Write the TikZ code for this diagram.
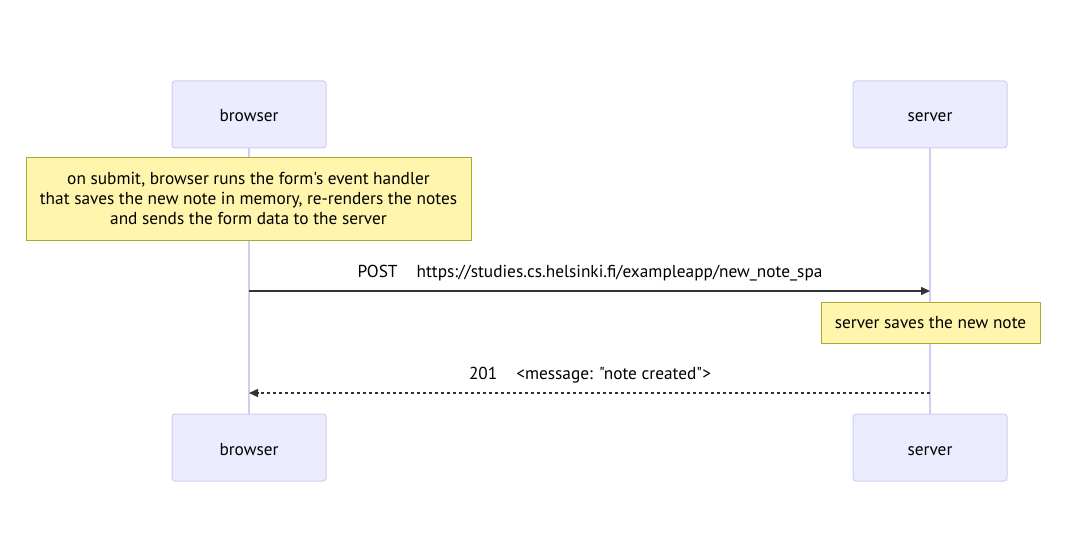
\documentclass[tikz,border=0pt]{standalone}
\usepackage{fontspec}
\setmainfont{PT Sans}[Ligatures=TeXOff]
\usetikzlibrary{arrows.meta}
\definecolor{actfill}{HTML}{ECECFF}
\definecolor{actline}{HTML}{D3CBF2}
\definecolor{notefill}{HTML}{FFF5AD}
\definecolor{noteline}{HTML}{AAAA33}
\definecolor{msg}{HTML}{333333}
\begin{document}
\begin{tikzpicture}[x=1pt,y=-1pt,
  actor/.style={draw=actline,fill=actfill,rounded corners=3pt,minimum width=154pt,minimum height=67pt,inner sep=0pt,font=\fontsize{17.3}{20}\selectfont,text height=15pt,text depth=0pt,line width=1pt},
  note/.style={draw=noteline,fill=notefill,inner sep=0pt,align=center,font=\fontsize{17.3}{20}\selectfont,line width=0.8pt},
  lifeline/.style={draw=actline,line width=1.2pt},
  msgline/.style={draw=msg,line width=1.4pt,-{Triangle[length=9pt,width=8pt]}},
  lbl/.style={font=\fontsize{17.3}{20}\selectfont,inner sep=0pt,text height=12pt,text depth=4pt}]
\useasboundingbox (0,0) rectangle (1091,553);
\node[actor] (b1) at (249,114.5) {browser};
\node[actor] (s1) at (930,114.5) {server};
\node[actor] (b2) at (249,447.5) {browser};
\node[actor] (s2) at (930,447.5) {server};
\draw[lifeline] (b1.south) -- (b2.north);
\draw[lifeline] (s1.south) -- (s2.north);
\node[note,minimum width=445pt,minimum height=83pt] (n1) at (248.5,198.5) {on submit, browser runs the form's event handler\\that saves the new note in memory, re-renders the notes\\and sends the form data to the server};
\coordinate (m1a) at (249,291);
\coordinate (m1b) at (930,291);
\draw[msgline] (m1a) -- (m1b);
\node[lbl] (l1) at (590,273) {POST\hspace{1.1em}https://studies.cs.helsinki.fi/exampleapp/new\_note\_spa};
\node[note,minimum width=219pt,minimum height=41pt,text height=13pt,text depth=2pt] (n2) at (930.5,322.5) {server saves the new note};
\coordinate (m2a) at (930,393);
\coordinate (m2b) at (249,393);
\draw[msgline,dash pattern=on 3pt off 3pt] (m2a) -- (m2b);
\node[lbl] (l2) at (590,375) {201\hspace{1.1em}<message: "note created">};
\end{tikzpicture}
\end{document}
